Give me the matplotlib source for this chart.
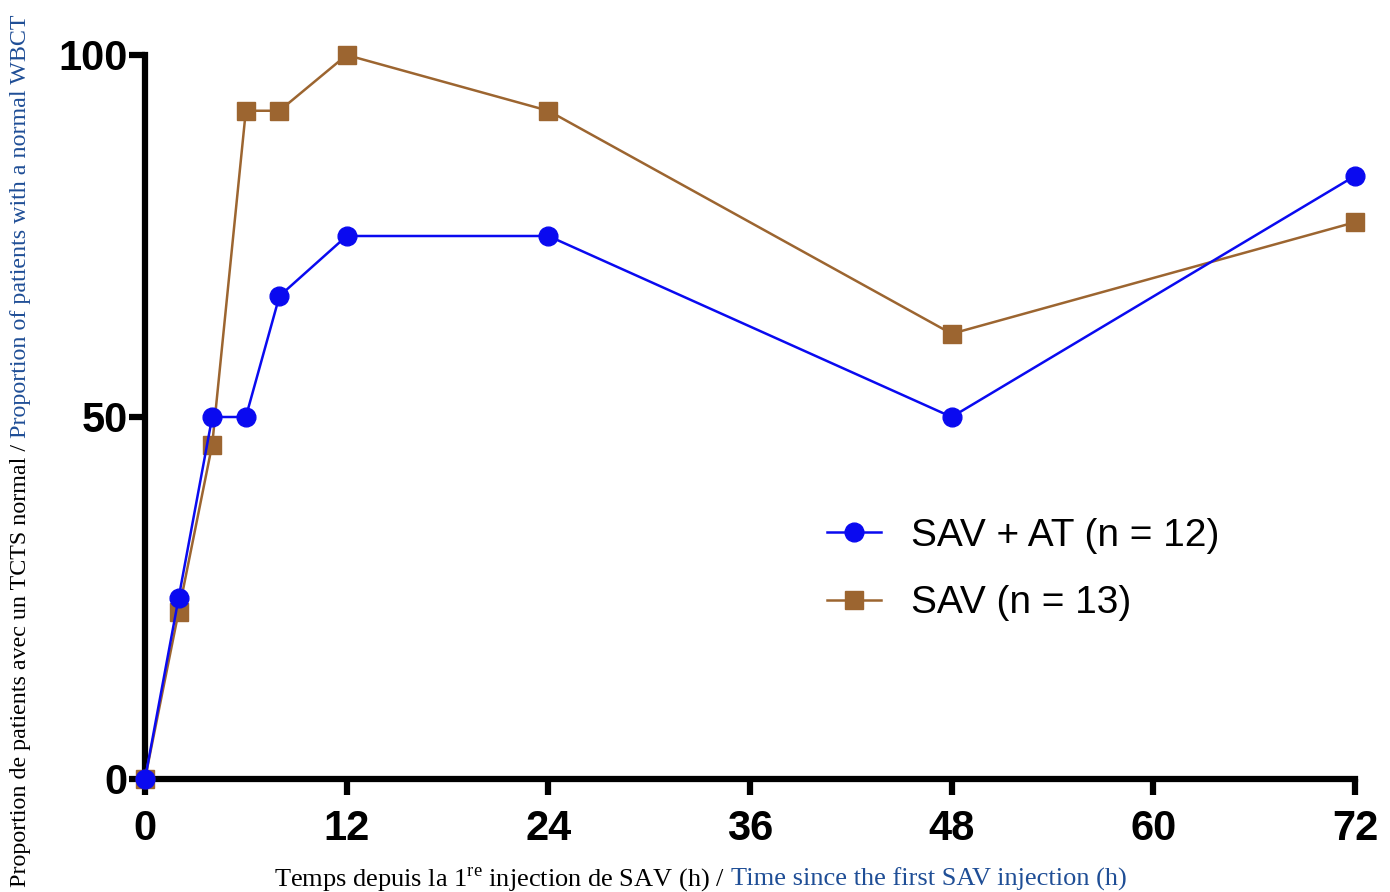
import matplotlib
matplotlib.use("Agg")
import matplotlib.pyplot as plt
from matplotlib import font_manager

# ---- data ----
hours = [0, 2, 4, 6, 8, 12, 24, 48, 72]
sav_at = [0, 25, 50, 50, 66.7, 75, 75, 50, 83.3]
sav = [0, 23.1, 46.2, 92.3, 92.3, 100, 92.3, 61.5, 76.9]
label_sav_at = "SAV + AT (n = 12)"
label_sav = "SAV (n = 13)"
xticks = [0, 12, 24, 36, 48, 60, 72]
yticks = [0, 50, 100]
xlabel_fr = "Temps depuis la 1$^{\\mathregular{re}}$ injection de SAV (h) /"
xlabel_en = "Time since the first SAV injection (h)"
ylabel_fr = "Proportion de patients avec un TCTS normal /"
ylabel_en = "Proportion of patients with a normal WBCT"

BLUE = "#0a0af0"
BROWN = "#9c6530"
LBLUE = "#1f4e96"

names = {f.name for f in font_manager.fontManager.ttflist}
tick_font = "Liberation Sans Narrow" if "Liberation Sans Narrow" in names else "Liberation Sans"
serif_font = "Liberation Serif"

W, H = 1390, 892
fig = plt.figure(figsize=(W / 100, H / 100), dpi=100)
ax = fig.add_axes([145 / W, 1 - 779 / H, (1355 - 145) / W, (779 - 55) / H])

ax.plot(hours, sav, color=BROWN, lw=1.8, marker="s", ms=13, mec=BROWN, mfc=BROWN,
        label=label_sav, clip_on=False, zorder=3)
ax.plot(hours, sav_at, color=BLUE, lw=1.8, marker="o", ms=13.5, mec=BLUE, mfc=BLUE,
        label=label_sav_at, clip_on=False, zorder=4)

ax.set_xlim(0, 72)
ax.set_ylim(0, 100)
ax.set_xticks(xticks)
ax.set_yticks(yticks)
for s in ["top", "right"]:
    ax.spines[s].set_visible(False)
for s in ["left", "bottom"]:
    ax.spines[s].set_linewidth(4.5)
    ax.spines[s].set_capstyle("projecting")
ax.tick_params(width=4.5, length=11.5, labelsize=30)
ax.tick_params(axis="x", pad=10)
ax.tick_params(axis="y", pad=1)
for lab in ax.get_xticklabels() + ax.get_yticklabels():
    lab.set_fontfamily(tick_font)
    lab.set_fontweight("bold")

handles, labels = ax.get_legend_handles_labels()
leg = ax.legend(handles[::-1], labels[::-1], loc="upper left",
                bbox_to_anchor=(792 / W, 1 - 483 / H), bbox_transform=fig.transFigure,
                frameon=False, prop={"family": "Liberation Sans", "size": 28},
                handlelength=1.4, handletextpad=0.75, labelspacing=0.8)

# ---- two-colour axis labels ----
fig.canvas.draw()
r = fig.canvas.get_renderer()
fs = 19
t1 = fig.text(0, 0, xlabel_fr, family=serif_font, size=fs, color="black",
              ha="left", va="baseline", transform=None)
t2 = fig.text(0, 0, xlabel_en, family=serif_font, size=fs, color=LBLUE,
              ha="left", va="baseline", transform=None)
gap = 6
w1 = t1.get_window_extent(r).width + gap
w2 = t2.get_window_extent(r).width
x0 = 700 - (w1 + w2) / 2
yb = H - 886
t1.set_position((x0, yb))
t2.set_position((x0 + w1, yb))

fsy = 17.3
u1 = fig.text(0, 0, ylabel_fr, family=serif_font, size=fsy, color="black",
              ha="left", va="baseline", rotation=90, rotation_mode="anchor", transform=None)
u2 = fig.text(0, 0, ylabel_en, family=serif_font, size=fsy, color=LBLUE,
              ha="left", va="baseline", rotation=90, rotation_mode="anchor", transform=None)
h1 = u1.get_window_extent(r).height + gap
h2 = u2.get_window_extent(r).height
y0 = (H - 451) - (h1 + h2) / 2
xb = 26
u1.set_position((xb, y0))
u2.set_position((xb, y0 + h1))

fig.savefig("out.png", dpi=100)
